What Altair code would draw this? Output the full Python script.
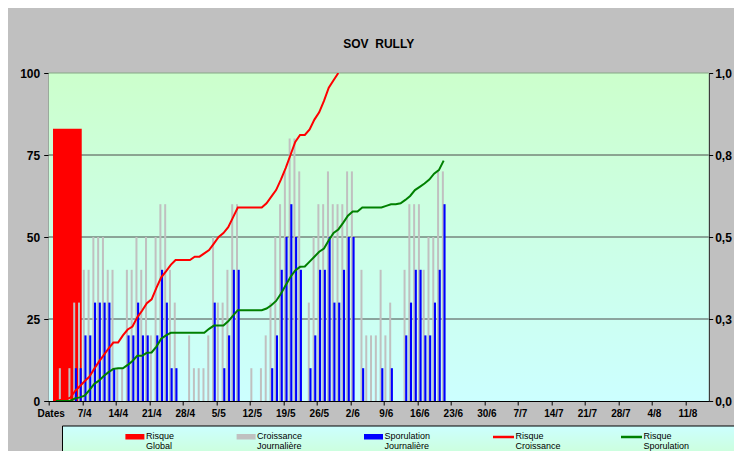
import json
import altair as alt
import pandas as pd

FONT = "Liberation Sans"

# ---------------- data (day index 0 = 31/3) ----------------
days = list(range(83))
croissance = [
    0, 0, 10, 0, 10, 30, 30, 40, 40, 50,
    50, 50, 40, 40, 10, 10, 40, 40, 50, 40,
    50, 20, 50, 60, 60, 40, 30, 0, 0, 20,
    10, 10, 10, 20, 50, 30, 30, 40, 60, 60,
    0, 0, 10, 0, 10, 20, 30, 50, 60, 70,
    80, 80, 70, 0, 30, 50, 60, 60, 70, 60,
    60, 60, 70, 70, 0, 40, 20, 20, 20, 40,
    20, 30, 0, 0, 40, 60, 60, 60, 40, 50,
    50, 70, 70,
]
sporulation = [
    0, 0, 0, 0, 0, 10, 10, 20, 20, 30,
    30, 30, 30, 10, 0, 0, 20, 20, 30, 20,
    20, 0, 20, 40, 30, 10, 10, 0, 0, 0,
    0, 0, 0, 0, 30, 0, 10, 20, 40, 40,
    0, 0, 0, 0, 0, 0, 10, 20, 40, 50,
    60, 50, 40, 0, 10, 20, 40, 40, 50, 30,
    30, 40, 50, 50, 0, 10, 0, 0, 0, 10,
    0, 10, 0, 0, 20, 30, 40, 40, 20, 20,
    30, 40, 60,
]
risque_global = [83]
risque_global_start = [0.9]
risque_global_end = [6.9]

red_days = list(range(1, 61))
risque_croissance = [
    0.000, 0.003, 0.005, 0.010, 0.030, 0.045, 0.060, 0.074, 0.098, 0.120,
    0.140, 0.160, 0.178, 0.178, 0.200, 0.218, 0.227, 0.255, 0.275, 0.298,
    0.310, 0.345, 0.377, 0.395, 0.415, 0.430, 0.430, 0.430, 0.430, 0.440,
    0.440, 0.450, 0.460, 0.480, 0.500, 0.512, 0.530, 0.560, 0.590, 0.590,
    0.590, 0.590, 0.590, 0.590, 0.603, 0.623, 0.643, 0.675, 0.710, 0.750,
    0.790, 0.811, 0.811, 0.828, 0.858, 0.880, 0.915, 0.955, 0.978, 1.000,
]
green_days = list(range(1, 83))
risque_sporulation = [
    0.000, 0.000, 0.000, 0.000, 0.008, 0.011, 0.016, 0.033, 0.052, 0.062,
    0.076, 0.088, 0.098, 0.100, 0.100, 0.110, 0.122, 0.138, 0.138, 0.147,
    0.148, 0.166, 0.190, 0.200, 0.208, 0.208, 0.208, 0.208, 0.208, 0.208,
    0.208, 0.208, 0.220, 0.230, 0.230, 0.230, 0.243, 0.260, 0.277, 0.277,
    0.277, 0.277, 0.277, 0.277, 0.282, 0.292, 0.305, 0.327, 0.353, 0.378,
    0.398, 0.409, 0.410, 0.425, 0.440, 0.455, 0.465, 0.490, 0.512, 0.523,
    0.543, 0.565, 0.578, 0.578, 0.590, 0.590, 0.590, 0.590, 0.590, 0.595,
    0.600, 0.600, 0.603, 0.613, 0.625, 0.643, 0.653, 0.663, 0.675, 0.693,
    0.704, 0.733,
]

x_tick_days = [0, 7, 14, 21, 28, 35, 42, 49, 56, 63, 70, 77, 84, 91, 98, 105, 112, 119, 126, 133]
x_tick_labels = ["Dates", "7/4", "14/4", "21/4", "28/4", "5/5", "12/5", "19/5", "26/5", "2/6",
                 "9/6", "16/6", "23/6", "30/6", "7/7", "14/7", "21/7", "28/7", "4/8", "11/8"]
left_ticks = [0, 25, 50, 75, 100]
grid_values = [25, 50, 75, 100]
right_ticks = [0, 0.25, 0.5, 0.75, 1.0]
right_labels = ["0,0", "0,3", "0,5", "0,8", "1,0"]

legend_labels = ["Risque\nGlobal", "Croissance\nJournalière", "Sporulation\nJournalière",
                 "Risque\nCroissance", "Risque\nSporulation"]
legend_colors = ["#ff0000", "#c0c0c0", "#0000ff", "#ff0000", "#008000"]
legend_kinds = ["bar", "bar", "bar", "line", "line"]

# ---------------- layout ----------------
W, H = 660, 328
X_DOMAIN = [0, 137.86]
legend_sym_x = [76.7, 187.9, 315.3, 444.3, 572.3]   # px from plot left
LEG_SYM_W = 19
LEG_LINE_W = 21
LEG_TOP = 353

# ---------------- tables ----------------
bars = pd.DataFrame({"day": days, "croissance": croissance, "sporulation": sporulation})
grey_df = bars[bars.croissance > 0].assign(x0=lambda d: d.day + 0.12, x1=lambda d: d.day + 0.54)
blue_df = bars[bars.sporulation > 0].assign(x0=lambda d: d.day + 0.46, x1=lambda d: d.day + 0.9)
global_df = pd.DataFrame({"x0": risque_global_start, "x1": risque_global_end, "v": risque_global})
red_df = pd.DataFrame({"x": [d + 0.5 for d in red_days], "v": risque_croissance})
green_df = pd.DataFrame({"x": [d + 0.5 for d in green_days], "v": risque_sporulation})
grid_df = pd.DataFrame({"v": grid_values,
                        "gc": ["#4a4a4a" if v < 100 else "#86a886" for v in grid_values]})
leg_df = pd.DataFrame({"label": legend_labels, "color": legend_colors, "kind": legend_kinds,
                       "sx": legend_sym_x})
leg_df["sx2"] = [x + (LEG_SYM_W if k == "bar" else LEG_LINE_W) for x, k in zip(leg_df.sx, leg_df.kind)]
leg_df["tx"] = leg_df["sx2"] + 1.5
one = pd.DataFrame({"a": [0]})

# ---------------- scales / axes ----------------
xscale = alt.Scale(domain=X_DOMAIN, nice=False, zero=False)
yleft = alt.Scale(domain=[0, 100], nice=False)
yright = alt.Scale(domain=[0, 1], nice=False)

x_expr = json.dumps(x_tick_labels) + "[round(datum.value/7)]"
xaxis = alt.Axis(values=x_tick_days, labelExpr=x_expr, title=None, grid=False,
                 tickSize=4, labelPadding=3, labelFont=FONT, labelFontSize=10,
                 labelFontWeight="bold", labelColor="black", domainColor="black",
                 tickColor="black", labelAngle=0, labelOffset=2, labelFlush=False,
                 labelOverlap=False)
laxis = alt.Axis(values=left_ticks, format="d", title=None, grid=False, tickSize=5,
                 labelPadding=4, labelFont=FONT, labelFontSize=12, labelFontWeight="bold",
                 labelColor="black", domainColor="black", tickColor="black")
r_expr = json.dumps(right_labels) + "[round(datum.value*4)]"
raxis = alt.Axis(values=right_ticks, labelExpr=r_expr, orient="right", title=None, grid=False,
                 tickSize=4, labelPadding=2, labelFont=FONT, labelFontSize=12,
                 labelFontWeight="bold", labelColor="black", domainColor="black",
                 tickColor="black", labelAlign="left")

plot_grad = alt.LinearGradient(gradient="linear", x1=0, x2=0, y1=0, y2=1,
                               stops=[alt.GradientStop(color="#ccffcc", offset=0),
                                      alt.GradientStop(color="#ccffff", offset=1)])
legend_grad = alt.LinearGradient(gradient="linear", x1=0, x2=0, y1=0, y2=1,
                                 stops=[alt.GradientStop(color="#ccffff", offset=0),
                                        alt.GradientStop(color="#ccffcc", offset=1)])

bg = alt.Chart(one).mark_rect(fill=plot_grad).encode(
    x=alt.value(0), x2=alt.value(W), y=alt.value(0), y2=alt.value(H))

grid = alt.Chart(grid_df).mark_rule(strokeWidth=1).encode(
    y=alt.Y("v:Q", scale=yleft, axis=laxis),
    color=alt.Color("gc:N", scale=None))

glob = alt.Chart(global_df).mark_rect(color="#ff0000").encode(
    x=alt.X("x0:Q", scale=xscale, axis=xaxis), x2="x1:Q",
    y=alt.Y("v:Q", scale=yleft, axis=laxis), y2=alt.datum(0))

grey = alt.Chart(grey_df).mark_rect(color="#c0c0c0").encode(
    x=alt.X("x0:Q", scale=xscale, axis=xaxis), x2="x1:Q",
    y=alt.Y("croissance:Q", scale=yleft, axis=laxis), y2=alt.datum(0))

blue = alt.Chart(blue_df).mark_rect(color="#0000ff").encode(
    x=alt.X("x0:Q", scale=xscale, axis=xaxis), x2="x1:Q",
    y=alt.Y("sporulation:Q", scale=yleft, axis=laxis), y2=alt.datum(0))

left = alt.layer(bg, grid, glob, grey, blue)

red = alt.Chart(red_df).mark_line(color="#ff0000", strokeWidth=2, clip=True).encode(
    x=alt.X("x:Q", scale=xscale, axis=xaxis),
    y=alt.Y("v:Q", scale=yright, axis=raxis))
green = alt.Chart(green_df).mark_line(color="#008000", strokeWidth=2, clip=True).encode(
    x=alt.X("x:Q", scale=xscale, axis=xaxis),
    y=alt.Y("v:Q", scale=yright, axis=raxis))
right = alt.layer(red, green)

main = alt.layer(left, right).resolve_scale(y="independent")

# ---------------- legend ----------------
leg_box = alt.Chart(one).mark_rect(fill=legend_grad, stroke="black", strokeWidth=1).encode(
    x=alt.value(13.8), x2=alt.value(W + 40), y=alt.value(LEG_TOP), y2=alt.value(LEG_TOP + 40))
leg_rect = alt.Chart(leg_df).transform_filter("datum.kind == 'bar'").mark_rect().encode(
    x=alt.X("sx:Q", scale=None, axis=None), x2="sx2:Q",
    y=alt.value(LEG_TOP + 8), y2=alt.value(LEG_TOP + 13.5),
    color=alt.Color("color:N", scale=None))
leg_line = alt.Chart(leg_df).transform_filter("datum.kind == 'line'").mark_rule(strokeWidth=2.5).encode(
    x=alt.X("sx:Q", scale=None, axis=None), x2="sx2:Q",
    y=alt.value(LEG_TOP + 11),
    color=alt.Color("color:N", scale=None))
leg_text = alt.Chart(leg_df).mark_text(align="left", baseline="top", lineBreak="\n",
                                       lineHeight=10, font=FONT, fontSize=9,
                                       color="black").encode(
    x=alt.X("tx:Q", scale=None, axis=None),
    y=alt.value(LEG_TOP + 6),
    text="label:N")
legend = alt.layer(leg_box, leg_rect, leg_line, leg_text)

# SVG is 726 x 443 so that with the 8px page margin it fits the 742 x 459 window
chart = alt.layer(main, legend).resolve_scale(x="independent", y="independent").properties(
    width=W, height=H,
    title=alt.TitleParams("SOV\u00a0 RULLY", font=FONT, fontSize=12, fontWeight="bold",
                          color="black", anchor="middle", offset=16),
    padding={"left": 40.7, "top": 65, "right": 25.3, "bottom": 50},
    autosize=alt.AutoSizeParams(type="none"),
    background="#c0c0c0",
).configure_view(stroke=None)

chart.save("out.html", embed_options={"renderer": "svg", "actions": False})
